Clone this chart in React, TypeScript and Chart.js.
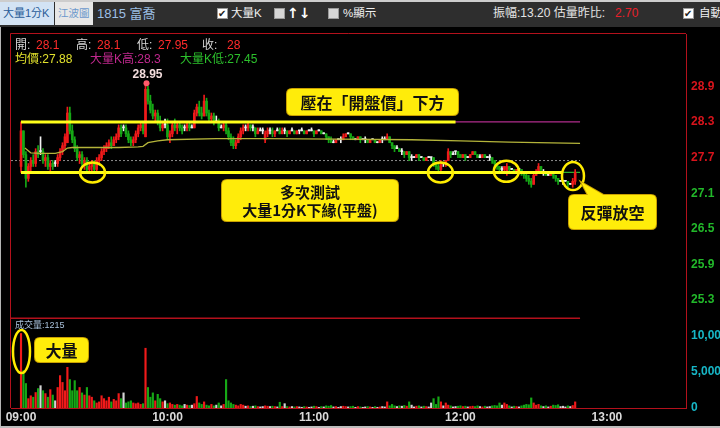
import React, { useEffect, useRef } from 'react';
import { Chart, registerables } from 'chart.js';

Chart.register(...registerables);

// ---------------- data (1-minute candles from 09:00) ----------------
const opens = [
  27.55, 28.15, 27.75, 27.35, 27.55, 27.65, 27.60, 27.80, 27.80, 27.80,
  27.65, 27.70, 27.55, 27.60, 27.60, 27.60, 27.70, 27.80, 27.90, 27.95,
  28.45, 28.15, 28.00, 27.85, 27.70, 27.75, 27.60, 27.65, 27.50, 27.55,
  27.60, 27.50, 27.65, 27.70, 27.80, 27.85, 27.90, 27.95, 27.90, 28.00,
  28.05, 28.20, 28.20, 28.20, 28.10, 28.00, 27.95, 28.00, 28.10, 28.20,
  28.25, 28.05, 28.85, 28.65, 28.50, 28.40, 28.45, 28.30, 28.20, 28.25,
  28.25, 28.05, 28.10, 28.25, 28.20, 28.25, 28.20, 28.20, 28.20, 28.25,
  28.20, 28.20, 28.45, 28.55, 28.45, 28.40, 28.65, 28.45, 28.35, 28.40,
  28.30, 28.30, 28.20, 28.20, 28.25, 28.15, 28.05, 28.00, 27.90, 27.95,
  28.05, 28.15, 28.20, 28.20, 28.25, 28.20, 28.20, 28.10, 28.15, 28.15,
  28.00, 28.10, 28.15, 28.15, 28.10, 28.15, 28.15, 28.10, 28.15, 28.15,
  28.10, 28.15, 28.15, 28.10, 28.15, 28.15, 28.15, 28.10, 28.15, 28.15,
  28.15, 28.10, 28.15, 28.15, 28.10, 28.10, 28.05, 28.00, 27.95, 27.95,
  28.00, 28.00, 28.00, 28.05, 28.10, 28.10, 28.05, 28.00, 28.00, 28.05,
  28.00, 28.00, 28.00, 27.95, 28.00, 28.00, 27.95, 27.95, 28.00, 28.00,
  28.00, 28.05, 27.95, 27.90, 27.85, 27.85, 27.80, 27.80, 27.75, 27.80,
  27.70, 27.70, 27.70, 27.75, 27.70, 27.70, 27.65, 27.70, 27.70, 27.70,
  27.60, 27.55, 27.50, 27.60, 27.60, 27.65, 27.80, 27.75, 27.80, 27.80,
  27.75, 27.70, 27.75, 27.70, 27.70, 27.75, 27.80, 27.75, 27.70, 27.70,
  27.75, 27.70, 27.70, 27.70, 27.65, 27.60, 27.55, 27.50, 27.50, 27.45,
  27.55, 27.50, 27.50, 27.45, 27.50, 27.50, 27.45, 27.40, 27.35, 27.30,
  27.25, 27.40, 27.45, 27.55, 27.45, 27.45, 27.40, 27.40, 27.45, 27.40,
  27.35, 27.30, 27.30, 27.30, 27.30, 27.25, 27.25, 27.30,
];
const highs = [
  28.30, 28.15, 27.80, 27.60, 27.70, 27.75, 27.85, 27.90, 28.05, 27.85,
  27.75, 27.75, 27.65, 27.65, 27.65, 27.75, 27.85, 27.95, 28.10, 28.55,
  28.55, 28.25, 28.05, 27.90, 27.80, 27.80, 27.70, 27.70, 27.60, 27.65,
  27.65, 27.70, 27.75, 27.85, 27.90, 27.95, 28.00, 28.05, 28.05, 28.10,
  28.25, 28.25, 28.25, 28.25, 28.15, 28.05, 28.05, 28.15, 28.25, 28.30,
  28.30, 28.95, 28.90, 28.75, 28.60, 28.50, 28.50, 28.40, 28.30, 28.35,
  28.35, 28.15, 28.30, 28.35, 28.30, 28.30, 28.25, 28.25, 28.30, 28.30,
  28.25, 28.50, 28.60, 28.65, 28.55, 28.75, 28.70, 28.50, 28.45, 28.45,
  28.40, 28.35, 28.25, 28.30, 28.30, 28.20, 28.10, 28.05, 28.00, 28.10,
  28.20, 28.25, 28.25, 28.30, 28.25, 28.25, 28.20, 28.20, 28.20, 28.20,
  28.15, 28.20, 28.20, 28.20, 28.15, 28.20, 28.20, 28.20, 28.20, 28.15,
  28.15, 28.20, 28.15, 28.15, 28.15, 28.20, 28.15, 28.15, 28.15, 28.20,
  28.15, 28.15, 28.15, 28.15, 28.10, 28.10, 28.05, 28.05, 28.00, 28.00,
  28.00, 28.05, 28.10, 28.10, 28.10, 28.10, 28.05, 28.00, 28.05, 28.05,
  28.00, 28.05, 28.00, 28.00, 28.00, 28.00, 27.95, 28.00, 28.05, 28.05,
  28.10, 28.05, 27.95, 27.90, 27.90, 27.85, 27.85, 27.80, 27.80, 27.80,
  27.75, 27.70, 27.75, 27.75, 27.70, 27.70, 27.70, 27.70, 27.70, 27.70,
  27.60, 27.60, 27.65, 27.60, 27.65, 27.85, 27.80, 27.80, 27.80, 27.80,
  27.75, 27.75, 27.75, 27.70, 27.75, 27.80, 27.80, 27.75, 27.75, 27.75,
  27.75, 27.70, 27.75, 27.70, 27.65, 27.60, 27.55, 27.55, 27.55, 27.60,
  27.55, 27.50, 27.50, 27.50, 27.50, 27.50, 27.45, 27.45, 27.40, 27.35,
  27.45, 27.50, 27.60, 27.55, 27.50, 27.45, 27.40, 27.45, 27.45, 27.40,
  27.35, 27.30, 27.30, 27.30, 27.30, 27.25, 27.35, 27.50,
];
const lows = [
  27.45, 27.70, 27.20, 27.30, 27.45, 27.55, 27.55, 27.70, 27.75, 27.60,
  27.55, 27.50, 27.45, 27.50, 27.55, 27.55, 27.65, 27.75, 27.85, 27.95,
  28.10, 27.95, 27.80, 27.65, 27.60, 27.55, 27.50, 27.45, 27.45, 27.45,
  27.45, 27.45, 27.60, 27.65, 27.75, 27.80, 27.85, 27.85, 27.90, 27.95,
  28.00, 28.05, 28.15, 28.05, 27.95, 27.90, 27.90, 27.95, 28.05, 28.15,
  28.10, 28.05, 28.60, 28.45, 28.35, 28.30, 28.25, 28.15, 28.15, 28.20,
  28.00, 27.95, 28.05, 28.15, 28.10, 28.15, 28.10, 28.15, 28.15, 28.15,
  28.20, 28.20, 28.40, 28.40, 28.35, 28.40, 28.40, 28.30, 28.30, 28.25,
  28.30, 28.15, 28.20, 28.15, 28.10, 28.00, 27.90, 27.85, 27.85, 27.95,
  28.00, 28.10, 28.15, 28.15, 28.15, 28.15, 28.05, 28.10, 28.15, 28.10,
  27.95, 28.05, 28.10, 28.05, 28.05, 28.15, 28.10, 28.10, 28.10, 28.05,
  28.10, 28.15, 28.10, 28.10, 28.10, 28.15, 28.10, 28.10, 28.15, 28.15,
  28.05, 28.10, 28.15, 28.10, 28.10, 28.00, 27.95, 27.95, 27.95, 27.95,
  28.00, 27.95, 28.00, 28.05, 28.10, 28.00, 28.00, 28.00, 28.00, 27.95,
  28.00, 27.95, 27.95, 27.95, 28.00, 27.95, 27.95, 27.95, 27.95, 28.00,
  28.00, 27.95, 27.85, 27.80, 27.85, 27.80, 27.75, 27.70, 27.75, 27.65,
  27.65, 27.70, 27.70, 27.65, 27.70, 27.65, 27.65, 27.70, 27.65, 27.55,
  27.50, 27.45, 27.45, 27.55, 27.55, 27.65, 27.70, 27.75, 27.75, 27.70,
  27.70, 27.70, 27.65, 27.70, 27.70, 27.75, 27.75, 27.70, 27.70, 27.70,
  27.70, 27.70, 27.65, 27.60, 27.55, 27.50, 27.45, 27.45, 27.45, 27.40,
  27.45, 27.50, 27.45, 27.45, 27.50, 27.40, 27.35, 27.30, 27.25, 27.20,
  27.25, 27.40, 27.45, 27.45, 27.40, 27.40, 27.40, 27.40, 27.35, 27.30,
  27.25, 27.30, 27.25, 27.30, 27.20, 27.25, 27.20, 27.25,
];
const closes = [
  28.15, 27.75, 27.35, 27.55, 27.65, 27.60, 27.80, 27.75, 27.80, 27.65,
  27.70, 27.55, 27.60, 27.55, 27.60, 27.70, 27.80, 27.90, 28.05, 28.45,
  28.15, 28.00, 27.85, 27.70, 27.75, 27.60, 27.65, 27.50, 27.55, 27.60,
  27.50, 27.65, 27.70, 27.80, 27.85, 27.90, 27.95, 27.90, 28.00, 28.05,
  28.20, 28.10, 28.20, 28.10, 28.00, 27.95, 28.00, 28.10, 28.20, 28.25,
  28.15, 28.85, 28.65, 28.50, 28.40, 28.45, 28.30, 28.20, 28.25, 28.25,
  28.05, 28.10, 28.25, 28.20, 28.25, 28.20, 28.15, 28.20, 28.25, 28.20,
  28.20, 28.45, 28.55, 28.45, 28.40, 28.65, 28.45, 28.35, 28.40, 28.30,
  28.30, 28.20, 28.20, 28.25, 28.15, 28.05, 27.95, 27.90, 27.95, 28.05,
  28.15, 28.20, 28.20, 28.25, 28.20, 28.20, 28.10, 28.15, 28.15, 28.15,
  28.10, 28.15, 28.15, 28.10, 28.15, 28.15, 28.10, 28.15, 28.15, 28.10,
  28.15, 28.15, 28.10, 28.15, 28.15, 28.15, 28.10, 28.15, 28.15, 28.15,
  28.10, 28.15, 28.15, 28.10, 28.10, 28.05, 28.00, 27.95, 27.95, 28.00,
  28.00, 28.00, 28.05, 28.10, 28.10, 28.05, 28.00, 28.00, 28.05, 28.00,
  28.00, 28.00, 27.95, 28.00, 28.00, 27.95, 27.95, 28.00, 28.00, 28.00,
  28.05, 27.95, 27.90, 27.85, 27.85, 27.80, 27.80, 27.75, 27.80, 27.70,
  27.70, 27.70, 27.75, 27.70, 27.70, 27.65, 27.70, 27.70, 27.70, 27.60,
  27.55, 27.50, 27.60, 27.60, 27.65, 27.80, 27.75, 27.75, 27.80, 27.75,
  27.70, 27.75, 27.70, 27.70, 27.75, 27.80, 27.75, 27.70, 27.70, 27.75,
  27.70, 27.70, 27.70, 27.65, 27.60, 27.55, 27.50, 27.50, 27.55, 27.55,
  27.50, 27.50, 27.45, 27.50, 27.50, 27.45, 27.40, 27.35, 27.30, 27.25,
  27.40, 27.45, 27.55, 27.50, 27.45, 27.40, 27.40, 27.45, 27.40, 27.35,
  27.30, 27.30, 27.30, 27.30, 27.25, 27.25, 27.30, 27.45,
];
const volumes = [
  10350, 5200, 3400, 1300, 1700, 1500, 2150, 2700, 3100, 2400,
  2000, 1500, 2550, 1800, 1000, 2850, 4500, 3550, 2400, 5650,
  3950, 2400, 3800, 2400, 2850, 2100, 1800, 2850, 1700, 1500,
  1000, 700, 850, 1700, 1300, 1000, 1500, 850, 1200, 1000,
  2000, 1300, 2100, 700, 850, 1000, 700, 600, 700, 500,
  600, 8300, 2850, 1500, 2100, 1000, 1900, 1300, 850, 1000,
  600, 700, 500, 400, 500, 400, 300, 500, 400, 350,
  400, 600, 1600, 700, 500, 850, 400, 300, 500, 300,
  400, 700, 300, 500, 3950, 1000, 700, 500, 400, 300,
  500, 400, 250, 300, 200, 250, 300, 200, 150, 200,
  300, 250, 200, 250, 200, 150, 800, 200, 600, 200,
  150, 200, 150, 200, 150, 100, 200, 150, 100, 150,
  250, 200, 100, 200, 150, 300, 250, 350, 150, 200,
  100, 200, 250, 200, 150, 200, 250, 100, 200, 150,
  100, 150, 200, 150, 100, 200, 100, 150, 200, 150,
  850, 300, 500, 300, 200, 300, 250, 350, 250, 850,
  400, 150, 250, 300, 150, 250, 200, 150, 700, 1300,
  500, 1550, 850, 300, 700, 400, 300, 150, 200, 250,
  300, 200, 250, 150, 200, 250, 200, 300, 200, 150,
  250, 150, 200, 300, 350, 300, 700, 400, 700, 500,
  300, 150, 250, 200, 150, 300, 400, 500, 450, 1400,
  700, 400, 500, 300, 200, 300, 150, 250, 400, 350,
  450, 200, 250, 150, 300, 200, 350, 850,
];
const avgMinutes = [1.6, 4, 8, 14, 17, 19, 21, 40, 48, 50, 52, 56, 60, 80, 100, 130, 160, 180, 200, 229];
const avgValues = [27.86, 27.78, 27.77, 27.77, 27.8, 27.86, 27.87, 27.87, 27.88, 27.89, 27.95, 27.98, 28.0, 28.02, 28.02, 28.01, 28.0, 27.98, 27.96, 27.94];

const refPrice = 27.65;
const bigKHigh = 28.3;
const bigKLow = 27.45;
const avgNow = 27.88;
const lastVolume = 1215;
const priceTicks = [25.3, 25.9, 26.5, 27.1, 27.7, 28.3, 28.9];
const volumeTicks = [0, 5000, 10000];
const timeTicks = [0, 60, 120, 180, 240];
const timeLabels = ['09:00', '10:00', '11:00', '12:00', '13:00'];
const cursorInfo = [
  { label: '開:', value: '28.1' },
  { label: '高:', value: '28.1' },
  { label: '低:', value: '27.95' },
  { label: '收:', value: '28' },
];

// ---------------- layout / style ----------------
const X_MIN = -4.1;
const X_MAX = 272.4;
const DATA_END = 229;
const UPPER_LINE_END = 178;
const LOWER_LINE_END = 222;
const FRAME = '#b3111c';
const UP = '#f01a1a';
const DOWN = '#16a816';
const FLAT = '#f0f0f0';
const VOL_FLAT = '#d4d4d4';
const HILITE = '#ffff1a';
const RING = '#ffec00';
const BOX_FILL = '#ffec0a';
const BOX_EDGE = '#c9a000';
const FONT = '"Liberation Sans", "Noto Sans CJK TC", sans-serif';
const CJK = '"Noto Sans CJK TC", "Liberation Sans", sans-serif';

const rings = [
  { m: 29.3, v: 27.45, rx: 12.5, ry: 10, axis: 'yP' },
  { m: 171.8, v: 27.45, rx: 12.5, ry: 10, axis: 'yP' },
  { m: 198.8, v: 27.47, rx: 12.5, ry: 10.5, axis: 'yP' },
  { m: 226.1, v: 27.39, rx: 11, ry: 14, axis: 'yP' },
  { m: 0.2, v: 7850, rx: 8.5, ry: 21.5, axis: 'yV' },
];
const callouts = [
  { x: 287, y: 89, w: 171, h: 26, lines: ['壓在「開盤價」下方'], size: 16 },
  { x: 222, y: 180, w: 176, h: 41, lines: ['多次測試', '大量1分K下緣(平盤)'], size: 15 },
  { x: 569, y: 195, w: 87, h: 34, lines: ['反彈放空'], size: 16, pointer: [[581, 182], [589, 197], [607, 197]] },
  { x: 35, y: 338, w: 53, h: 24, lines: ['大量'], size: 16 },
];

function rrect(ctx: CanvasRenderingContext2D, x: number, y: number, w: number, h: number, r: number) {
  ctx.beginPath();
  ctx.moveTo(x + r, y);
  ctx.lineTo(x + w - r, y);
  ctx.quadraticCurveTo(x + w, y, x + w, y + r);
  ctx.lineTo(x + w, y + h - r);
  ctx.quadraticCurveTo(x + w, y + h, x + w - r, y + h);
  ctx.lineTo(x + r, y + h);
  ctx.quadraticCurveTo(x, y + h, x, y + h - r);
  ctx.lineTo(x, y + r);
  ctx.quadraticCurveTo(x, y, x + r, y);
  ctx.closePath();
}

const overlayPlugin = {
  id: 'overlay',
  beforeDatasetsDraw(chart: any) {
    const { ctx, chartArea: a, scales } = chart;
    ctx.save();
    ctx.strokeStyle = FRAME;
    ctx.lineWidth = 1;
    ctx.beginPath();
    ctx.moveTo(a.left - 0.5, a.bottom);
    ctx.lineTo(a.left - 0.5, a.top - 0.5);
    ctx.lineTo(a.right, a.top - 0.5);
    ctx.stroke();
    ctx.lineWidth = 1.5;
    const sy = Math.round(scales.yV.top) + 0.25;
    ctx.beginPath();
    ctx.moveTo(a.left, sy);
    ctx.lineTo(scales.x.getPixelForValue(DATA_END), sy);
    ctx.stroke();
    ctx.restore();
  },
  afterDraw(chart: any) {
    const { ctx, scales } = chart;
    const xs = scales.x;
    ctx.save();
    // day high marker
    const hi = Math.max(...highs);
    const hiIdx = highs.indexOf(hi);
    const hx = xs.getPixelForValue(hiIdx) + 1;
    const hy = scales.yP.getPixelForValue(hi);
    ctx.fillStyle = '#ff5a6a';
    ctx.beginPath();
    ctx.arc(hx, hy, 3, 0, Math.PI * 2);
    ctx.fill();
    ctx.fillStyle = '#f2dcdc';
    ctx.font = 'bold 12px "Liberation Sans", sans-serif';
    ctx.textAlign = 'center';
    ctx.textBaseline = 'middle';
    ctx.fillText(hi.toFixed(2), hx + 1, hy - 9);
    // rings
    ctx.strokeStyle = RING;
    ctx.lineWidth = 2.5;
    for (const r of rings) {
      const cx = xs.getPixelForValue(r.m);
      const cy = scales[r.axis].getPixelForValue(r.v);
      ctx.beginPath();
      ctx.ellipse(cx, cy, r.rx, r.ry, 0, 0, Math.PI * 2);
      ctx.stroke();
    }
    // callouts
    for (const c of callouts) {
      ctx.lineWidth = 2;
      ctx.strokeStyle = BOX_EDGE;
      ctx.fillStyle = BOX_FILL;
      rrect(ctx, c.x, c.y, c.w, c.h, 5);
      ctx.stroke();
      if (c.pointer) {
        ctx.beginPath();
        ctx.moveTo(c.pointer[0][0], c.pointer[0][1]);
        ctx.lineTo(c.pointer[1][0], c.pointer[1][1]);
        ctx.lineTo(c.pointer[2][0], c.pointer[2][1]);
        ctx.closePath();
        ctx.stroke();
        ctx.fill();
      }
      rrect(ctx, c.x, c.y, c.w, c.h, 5);
      ctx.fill();
      ctx.fillStyle = '#111';
      ctx.font = `bold ${c.size}px ${CJK}`;
      ctx.textAlign = 'center';
      ctx.textBaseline = 'middle';
      const n = c.lines.length;
      c.lines.forEach((t, i) => {
        ctx.fillText(t, c.x + c.w / 2, c.y + c.h / 2 + 1 + (i - (n - 1) / 2) * 18.5);
      });
    }
    ctx.restore();
  },
};

function Check({ x, on }: { x: number; on: boolean }) {
  return (
    <div style={{ position: 'absolute', left: x, top: 8, width: 11, height: 11, background: on ? '#ffffff' : '#d6d6d6', border: '1px solid #9a9a9a', boxSizing: 'border-box' }}>
      {on ? <span style={{ position: 'absolute', left: 0, top: -2, fontSize: 10, lineHeight: '13px', color: '#222', fontFamily: '"DejaVu Sans", sans-serif', fontWeight: 'bold' }}>✔</span> : null}
    </div>
  );
}

function T({ x, y, c, s = 12, w, lh = 14, ff, children }: any) {
  return (
    <span style={{ position: 'absolute', left: x, top: y, color: c, fontSize: s, lineHeight: `${lh}px`, whiteSpace: 'nowrap', fontWeight: w, fontFamily: ff }}>{children}</span>
  );
}

export default function App() {
  const ref = useRef<HTMLCanvasElement>(null);
  useEffect(() => {
    const canvas = ref.current;
    if (!canvas) return;
    const idx = opens.map((_, i) => i);
    const dir = idx.map((i) => (closes[i] > opens[i] ? 1 : closes[i] < opens[i] ? -1 : 0));
    const candleColors = dir.map((d) => (d > 0 ? UP : d < 0 ? DOWN : FLAT));
    const volColors = dir.map((d) => (d > 0 ? UP : d < 0 ? DOWN : VOL_FLAT));
    const hLine = (from: number, to: number, v: number) => [{ x: from, y: v }, { x: to, y: v }];

    const chart = new Chart(canvas, {
      type: 'bar',
      data: {
        datasets: [
          {
            type: 'line', data: hLine(0, UPPER_LINE_END, bigKHigh) as any, yAxisID: 'yP',
            borderColor: HILITE, borderWidth: 3, pointRadius: 0, order: 0,
          },
          {
            type: 'line', data: hLine(0, LOWER_LINE_END, bigKLow) as any, yAxisID: 'yP',
            borderColor: HILITE, borderWidth: 3, pointRadius: 0, order: 0,
          },
          {
            type: 'line', data: avgMinutes.map((m, i) => ({ x: m, y: avgValues[i] })) as any, yAxisID: 'yP',
            borderColor: '#b4b43a', borderWidth: 1.3, pointRadius: 0, order: 1,
          },
          {
            type: 'bar', data: idx.map((i) => ({ x: i, y: [opens[i], closes[i]] })) as any, yAxisID: 'yP',
            backgroundColor: candleColors, barThickness: 2, minBarLength: 1, grouped: false, order: 2,
          },
          {
            type: 'bar', data: idx.map((i) => ({ x: i, y: [lows[i], highs[i]] })) as any, yAxisID: 'yP',
            backgroundColor: candleColors, barThickness: 1, minBarLength: 1, grouped: false, order: 3,
          },
          {
            type: 'line', data: hLine(0, DATA_END, bigKHigh) as any, yAxisID: 'yP',
            borderColor: '#b02c8c', borderWidth: 1.2, pointRadius: 0, order: 5,
          },
          {
            type: 'line', data: hLine(0, DATA_END, bigKLow) as any, yAxisID: 'yP',
            borderColor: '#2cb02c', borderWidth: 1.2, pointRadius: 0, order: 5,
          },
          {
            type: 'line', data: hLine(X_MIN, DATA_END, refPrice) as any, yAxisID: 'yP',
            borderColor: '#8c8c8c', borderWidth: 1, borderDash: [2, 2], pointRadius: 0, order: 6,
          },
          {
            type: 'bar', data: idx.map((i) => ({ x: i, y: volumes[i] })) as any, yAxisID: 'yV',
            backgroundColor: volColors, barThickness: 1.5, grouped: false, order: 4,
          },
        ],
      },
      options: {
        responsive: false,
        animation: false,
        events: [],
        layout: { padding: { left: 11, top: 34, right: 0, bottom: 0 } },
        plugins: { legend: { display: false }, tooltip: { enabled: false } },
        scales: {
          x: {
            type: 'linear', min: X_MIN, max: X_MAX, offset: false,
            grid: { display: false, drawTicks: false },
            border: { display: true, color: FRAME, width: 1 },
            ticks: {
              color: '#dadada', padding: 2, maxRotation: 0, autoSkip: false,
              font: { family: '"Liberation Sans", sans-serif', size: 12, weight: 'bold' },
              callback: (_v: any, i: number) => timeLabels[i],
            },
            afterBuildTicks: (s: any) => { s.ticks = timeTicks.map((v) => ({ value: v })); },
            afterFit: (s: any) => { s.height = 20; },
          },
          yP: {
            type: 'linear', position: 'right', stack: 'panes', stackWeight: 284,
            min: 25.0, max: 29.78, beginAtZero: false,
            grid: { display: false, drawTicks: false },
            border: { display: true, color: FRAME, width: 1 },
            ticks: {
              padding: 5, autoSkip: false,
              color: (c: any) => (c.tick && c.tick.value > refPrice ? '#d8141c' : '#22b82a'),
              font: { family: '"Liberation Sans", sans-serif', size: 12, weight: 'bold' },
              callback: (v: any) => Number(v).toFixed(1),
            },
            afterBuildTicks: (s: any) => { s.ticks = priceTicks.map((v) => ({ value: v })); },
            afterFit: (s: any) => { s.width = 34; },
          },
          yV: {
            type: 'linear', position: 'right', stack: 'panes', stackWeight: 90,
            min: 0, max: 12500,
            grid: { display: false, drawTicks: false },
            border: { display: true, color: FRAME, width: 1 },
            ticks: {
              padding: 5, autoSkip: false, color: '#17b6c6',
              font: { family: '"Liberation Sans", sans-serif', size: 12, weight: 'bold' },
              callback: (v: any) => Number(v).toLocaleString('en-US'),
            },
            afterBuildTicks: (s: any) => { s.ticks = volumeTicks.map((v) => ({ value: v })); },
            afterFit: (s: any) => { s.width = 34; },
          },
        },
      } as any,
      plugins: [overlayPlugin as any],
    });
    return () => chart.destroy();
  }, []);

  const infoLabelX = [15, 76, 137, 202];
  const infoValueX = [36, 97, 158, 227];

  return (
    <div style={{ position: 'absolute', left: 0, top: 0, width: 720, height: 428, background: '#000', overflow: 'hidden', fontFamily: FONT }}>
      <canvas ref={ref} width={720} height={428} style={{ position: 'absolute', left: 0, top: 0 }} />

      {/* toolbar */}
      <div style={{ position: 'absolute', left: 0, top: 0, width: 720, height: 27, background: '#2e2e2e' }}>
        <div style={{ position: 'absolute', left: 0, top: 0, width: 720, height: 2, background: '#cdcdcd' }} />
        <div style={{ position: 'absolute', left: 0, top: 2, width: 54, height: 23, background: '#d3e3f4' }} />
        <div style={{ position: 'absolute', left: 55, top: 2, width: 38, height: 23, background: '#e7e7e7' }} />
        <T x={3} y={2} lh={23} s={11} c="#2a5c98">大量1分K</T>
        <T x={58} y={2} lh={23} s={10.5} c="#6b98cc">江波圖</T>
        <T x={97} y={2} lh={23} s={13} c="#9cbfe5">1815 富喬</T>
        <Check x={217} on={true} />
        <T x={231} y={2} lh={23} s={11.5} c="#f0f0f0">大量K</T>
        <Check x={274} on={false} />
        <T x={287} y={2} lh={23} s={14} w="bold" ff='"DejaVu Sans", sans-serif' c="#ffffff">↑↓</T>
        <Check x={328} on={false} />
        <T x={343} y={2} lh={23} s={11.5} c="#f0f0f0">%顯示</T>
        <T x={493} y={2} lh={23} c="#e4e4e4">振幅:13.20 估量昨比:</T>
        <T x={615} y={2} lh={23} c="#e8202a">2.70</T>
        <Check x={683} on={true} />
        <T x={699} y={2} lh={23} s={11.5} c="#f0f0f0">自動</T>
      </div>

      {/* cursor info */}
      {cursorInfo.map((it, i) => (
        <React.Fragment key={i}>
          <T x={infoLabelX[i]} y={38} c="#d6d6d6">{it.label}</T>
          <T x={infoValueX[i]} y={38} c="#ff2b2b">{it.value}</T>
        </React.Fragment>
      ))}
      <T x={15} y={52} c="#e2e22c">{`均價:${avgNow}`}</T>
      <T x={90} y={52} c="#c0288e">{`大量K高:${bigKHigh}`}</T>
      <T x={180} y={52} c="#2cc02c">{`大量K低:${bigKLow}`}</T>
      <T x={15} y={320} s={9} lh={10} c="#a8c0da">{`成交量:${lastVolume}`}</T>

      {/* window edges */}
      <div style={{ position: 'absolute', left: 0, top: 27, width: 1, height: 401, background: '#b4b4b4' }} />
      <div style={{ position: 'absolute', left: 0, top: 426, width: 720, height: 2, background: '#bdbdbd' }} />
    </div>
  );
}
